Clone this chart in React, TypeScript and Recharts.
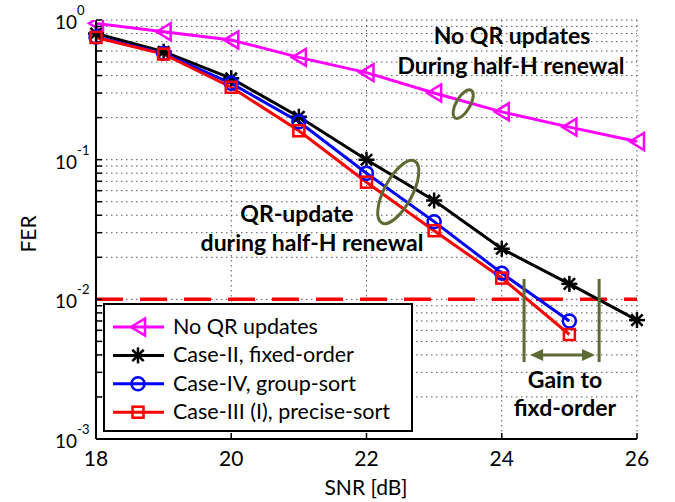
import React from "react";
import {
  LineChart,
  Line,
  XAxis,
  YAxis,
  CartesianGrid,
  ReferenceLine,
  ReferenceDot,
  Legend,
} from "recharts";

const snr = [18, 19, 20, 21, 22, 23, 24, 25, 26];
const noQrUpdates = [0.946, 0.824, 0.72, 0.54, 0.42, 0.3, 0.22, 0.171, 0.135];
const fixedOrder = [0.8, 0.593, 0.382, 0.203, 0.1, 0.051, 0.023, 0.0129, 0.0071];
const groupSort = [0.755, 0.577, 0.352, 0.187, 0.08, 0.036, 0.0154, 0.007];
const preciseSort = [0.75, 0.57, 0.33, 0.161, 0.069, 0.031, 0.0142, 0.0056];

const xTicks = [18, 20, 22, 24, 26];
const yDecades = [0.001, 0.01, 0.1, 1];
const yTicks = yDecades.flatMap((d) =>
  d === 1 ? [1] : [1, 2, 3, 4, 5, 6, 7, 8, 9].map((m) => +(d * m).toPrecision(3))
);

const targetFer = 0.01;
// annotation anchors, in data units
const ellipses = [
  { x: 23.43, y: 0.25, rx: 7, ry: 16, rot: 30 },
  { x: 22.47, y: 0.0587, rx: 14, ry: 35, rot: 28 },
];
const gainBounds = [24.33, 25.44];
const gainSpan = { from: 24.42, to: 25.38, y: 0.004, top: 0.014, bottom: 0.00356 };

const FONT = "Lato, 'Open Sans', sans-serif";
const OLIVE = "#5e6a34";

const data = snr.map((s, i) => ({
  snr: s,
  noQr: noQrUpdates[i],
  fixed: fixedOrder[i],
  group: groupSort[i],
  precise: preciseSort[i],
}));

type Mk = "tri" | "star" | "circle" | "square";

function Marker({ kind, cx, cy, color }: { kind: Mk; cx: number; cy: number; color: string }) {
  const sw = 2.5;
  if (kind === "tri")
    return (
      <polygon
        points={`${cx - 7},${cy} ${cx + 7},${cy - 8.5} ${cx + 7},${cy + 8.5}`}
        fill="none"
        stroke={color}
        strokeWidth={sw}
      />
    );
  if (kind === "circle")
    return <circle cx={cx} cy={cy} r={6.5} fill="none" stroke={color} strokeWidth={sw} />;
  if (kind === "square")
    return <rect x={cx - 5.5} y={cy - 5.5} width={11} height={11} fill="none" stroke={color} strokeWidth={sw} />;
  const r = 8;
  const d = r * 0.707;
  return (
    <g stroke={color} strokeWidth={2.5}>
      <line x1={cx} y1={cy - r} x2={cx} y2={cy + r} />
      <line x1={cx - r} y1={cy} x2={cx + r} y2={cy} />
      <line x1={cx - d} y1={cy - d} x2={cx + d} y2={cy + d} />
      <line x1={cx - d} y1={cy + d} x2={cx + d} y2={cy - d} />
    </g>
  );
}

const series: { key: string; name: string; color: string; mk: Mk }[] = [
  { key: "noQr", name: "No QR updates", color: "#ff00ff", mk: "tri" },
  { key: "fixed", name: "Case-II, fixed-order", color: "#000000", mk: "star" },
  { key: "group", name: "Case-IV, group-sort", color: "#0000ff", mk: "circle" },
  { key: "precise", name: "Case-III (I), precise-sort", color: "#ff0000", mk: "square" },
];

function dotFor(kind: Mk, color: string) {
  return (p: any) => {
    if (p.cx == null || p.cy == null || p.value == null)
      return <g key={p.key ?? p.index} />;
    return (
      <g key={p.key ?? p.index}>
        <Marker kind={kind} cx={p.cx} cy={p.cy} color={color} />
      </g>
    );
  };
}

function YTick({ x, y, payload }: any) {
  const v = payload.value;
  const e = Math.log10(v);
  if (Math.abs(e - Math.round(e)) > 1e-6) return <g />;
  return (
    <text x={x - 37} y={y + 9} fontSize={19} fontFamily={FONT} fill="#000">
      10
      <tspan dy={-14} fontSize={13}>
        {Math.round(e)}
      </tspan>
    </text>
  );
}

function XTick({ x, y, payload }: any) {
  return (
    <text x={x} y={y + 33} textAnchor="middle" fontSize={21} fontFamily={FONT} fill="#000">
      {payload.value}
    </text>
  );
}

function LegendBox() {
  return (
    <div
      style={{
        width: 310,
        height: 129,
        boxSizing: "border-box",
        border: "2px solid #000",
        background: "#fff",
      }}
    >
      <svg width={306} height={125}>
        {series.map((s, i) => {
          const cy = 22 + i * 28.4;
          return (
            <g key={s.key}>
              <line x1={8} x2={59} y1={cy} y2={cy} stroke={s.color} strokeWidth={3} />
              <Marker kind={s.mk} cx={33} cy={cy} color={s.color} />
              <text x={68} y={cy + 7} fontSize={21.5} fontFamily={FONT} fill="#000">
                {s.name}
              </text>
            </g>
          );
        })}
      </svg>
    </div>
  );
}

function Ellipse(e: { rx: number; ry: number; rot: number }) {
  return (p: any) => (
    <ellipse
      cx={p.cx}
      cy={p.cy}
      rx={e.rx}
      ry={e.ry}
      transform={`rotate(${e.rot} ${p.cx} ${p.cy})`}
      fill="none"
      stroke={OLIVE}
      strokeWidth={3}
    />
  );
}

function ArrowHead(dir: 1 | -1) {
  return (p: any) => (
    <polygon
      points={`${p.cx},${p.cy} ${p.cx - dir * 13},${p.cy - 6} ${p.cx - dir * 13},${p.cy + 6}`}
      fill={OLIVE}
    />
  );
}

const annotations = [
  { text: "No QR updates", x: 512, y: 44 },
  { text: "During half-H renewal", x: 511, y: 74 },
  { text: "QR-update", x: 297, y: 222 },
  { text: "during half-H renewal", x: 312, y: 251 },
  { text: "Gain to", x: 565, y: 388 },
  { text: "fixd-order", x: 565, y: 416 },
];

export default function App() {
  const axisStyle = { stroke: "#000", strokeWidth: 2 };
  return (
    <div style={{ position: "absolute", left: 0, top: 0, width: 675, height: 502, background: "#fff" }}>
      <LineChart width={675} height={502} data={data} margin={{ top: 20, right: 38, bottom: 0, left: 0 }}>
        <CartesianGrid stroke="#555" strokeDasharray="1.5 3.5" strokeWidth={1} />
        <XAxis
          dataKey="snr"
          type="number"
          domain={[18, 26]}
          ticks={xTicks}
          interval={0}
          height={63}
          tickSize={-6}
          tickMargin={0}
          axisLine={axisStyle}
          tickLine={{ stroke: "#000", strokeWidth: 1.5 }}
          tick={<XTick />}
        />
        <XAxis
          xAxisId="top"
          orientation="top"
          type="number"
          domain={[18, 26]}
          ticks={xTicks}
          interval={0}
          height={0}
          tickSize={-6}
          axisLine={axisStyle}
          tickLine={{ stroke: "#000", strokeWidth: 1.5 }}
          tick={false}
        />
        <YAxis
          scale="log"
          type="number"
          domain={[0.001, 1]}
          allowDataOverflow
          ticks={yTicks}
          interval={0}
          width={96}
          tickSize={-6}
          tickMargin={10}
          axisLine={axisStyle}
          tickLine={{ stroke: "#000", strokeWidth: 1.5 }}
          tick={<YTick />}
        />
        <YAxis
          yAxisId="right"
          orientation="right"
          scale="log"
          type="number"
          domain={[0.001, 1]}
          allowDataOverflow
          ticks={yTicks}
          interval={0}
          width={0}
          tickSize={-6}
          axisLine={axisStyle}
          tickLine={{ stroke: "#000", strokeWidth: 1.5 }}
          tick={false}
        />
        <ReferenceLine y={targetFer} stroke="#ff0000" strokeWidth={3.5} strokeDasharray="27 17" />
        {series.map((s) => (
          <Line
            key={s.key}
            dataKey={s.key}
            name={s.name}
            stroke={s.color}
            strokeWidth={3}
            dot={dotFor(s.mk, s.color)}
            activeDot={false}
            isAnimationActive={false}
          />
        ))}
        {ellipses.map((e, i) => (
          <ReferenceDot key={i} x={e.x} y={e.y} r={1} shape={Ellipse(e)} />
        ))}
        {gainBounds.map((g) => (
          <ReferenceLine
            key={g}
            segment={[
              { x: g, y: gainSpan.top },
              { x: g, y: gainSpan.bottom },
            ]}
            stroke={OLIVE}
            strokeWidth={3}
          />
        ))}
        <ReferenceLine
          segment={[
            { x: gainSpan.from + 0.1, y: gainSpan.y },
            { x: gainSpan.to - 0.1, y: gainSpan.y },
          ]}
          stroke={OLIVE}
          strokeWidth={3}
        />
        <ReferenceDot x={gainSpan.from} y={gainSpan.y} r={1} shape={ArrowHead(-1)} />
        <ReferenceDot x={gainSpan.to} y={gainSpan.y} r={1} shape={ArrowHead(1)} />
        <Legend
          layout="vertical"
          align="center"
          verticalAlign="middle"
          content={<LegendBox />}
          wrapperStyle={{ left: 103, top: 303, width: 310, height: 129 }}
        />
      </LineChart>
      <svg
        width={675}
        height={502}
        style={{ position: "absolute", left: 0, top: 0, pointerEvents: "none" }}
      >
        {annotations.map((a) => (
          <text
            key={a.text}
            x={a.x}
            y={a.y}
            textAnchor="middle"
            fontSize={23}
            fontWeight="bold"
            fontFamily={FONT}
            fill="#000"
          >
            {a.text}
          </text>
        ))}
        <text x={366} y={495} textAnchor="middle" fontSize={21} fontFamily={FONT} fill="#000">
          SNR [dB]
        </text>
        <text
          x={27}
          y={234}
          textAnchor="middle"
          fontSize={21}
          fontFamily={FONT}
          fill="#000"
          transform="rotate(-90 27 234)"
          dominantBaseline="central"
        >
          FER
        </text>
      </svg>
    </div>
  );
}
